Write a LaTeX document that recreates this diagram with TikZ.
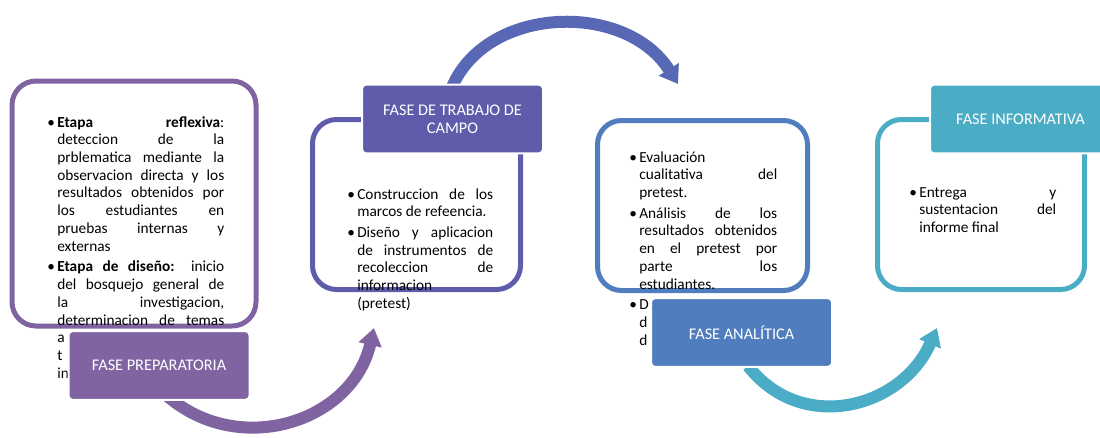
\documentclass[tikz,border=0pt]{standalone}
\usepackage{fontspec}
\setmainfont{Carlito}
\usetikzlibrary{arrows.meta}
\definecolor{morado}{RGB}{128,100,162}
\definecolor{violeta}{RGB}{95,92,172}
\definecolor{violetaflecha}{RGB}{88,104,180}
\definecolor{azul}{RGB}{79,125,189}
\definecolor{turquesa}{RGB}{75,172,198}
\newcommand{\vineta}{\par\hangindent=7.5pt\hangafter=1\noindent\makebox[7.5pt][l]{\textbullet}}
\newcommand{\cuadro}[2]{\parbox[t]{#1}{\fontsize{11.5}{13.3}\selectfont\setlength{\parskip}{2.25pt}#2}}

\begin{document}
\begin{tikzpicture}[x=0.75pt,y=-0.75pt,
    marco/.style={line width=3.75pt,rounded corners=18pt,inner sep=0pt,outer sep=0pt},
    etiqueta/.style={draw=white,line width=1.5pt,rounded corners=3pt,text=white,align=center,
      font=\fontsize{12.2}{13.8}\selectfont,minimum width=135.75pt,minimum height=51.5pt,inner sep=0pt},
    texto/.style={anchor=base west,inner sep=0pt},
    flecha/.style={line width=9pt,-{Triangle[width=17pt,length=13pt]}}]
\clip (0,0) rectangle (1100,437);

% marcos
\node[marco,draw=morado,minimum width=183pt,minimum height=183.75pt] (m1) at (134,203.5) {};
\node[marco,draw=violeta,minimum width=156pt,minimum height=127.5pt] (m2) at (416.5,204.5) {};
\node[marco,draw=azul,minimum width=157.5pt,minimum height=127.5pt] (m3) at (702.5,205.5) {};
\node[marco,draw=turquesa,minimum width=155.25pt,minimum height=127.5pt] (m4) at (981,204.5) {};

% textos
\node[texto] (t1) at (47,127) {\cuadro{132.75pt}{%
  \vineta\textbf{Etapa reflexiva}:\linebreak deteccion de la\linebreak prblematica mediante la\linebreak
  observacion directa y los\linebreak resultados obtenidos por\linebreak los estudiantes en\linebreak
  pruebas internas y\linebreak externas
  \vineta\textbf{Etapa de diseño:} inicio\linebreak del bosquejo general de\linebreak la investigacion,\linebreak
  determinacion de temas\linebreak a\\ t\\ in}};
\node[texto] (t2) at (347,199) {\cuadro{109.5pt}{%
  \vineta Construccion de los\linebreak marcos de refeencia.
  \vineta Diseño y aplicacion\linebreak de instrumentos de\linebreak recoleccion de\linebreak informacion\\ (pretest)}};
\node[texto] (t3) at (629,162) {\cuadro{111pt}{%
  \vineta Evaluación\\ cualitativa del\linebreak pretest.
  \vineta Análisis de los\linebreak resultados obtenidos\linebreak en el pretest por\linebreak parte los\linebreak estudiantes.
  \vineta D\\ d\\ d}};
\node[texto] (t4) at (909,197) {\cuadro{110.25pt}{%
  \vineta Entrega y\linebreak sustentacion del\linebreak informe final}};

% flechas
\coordinate (p1) at (165,394);
\coordinate (p2) at (374,328);
\coordinate (p3) at (450,92);
\coordinate (p4) at (678,84);
\coordinate (p5) at (748,366);
\coordinate (p6) at (937,328);
\draw[flecha,morado] (p1) .. controls (237,459) and (352,423) .. (p2);
\draw[flecha,violetaflecha] (p3) .. controls (482,5) and (625,0) .. (p4);
\draw[flecha,turquesa] (p5) .. controls (802,435) and (902,408) .. (p6);

% etiquetas
\node[etiqueta,fill=morado] (e1) at (159,365.5) {FASE PREPARATORIA};
\node[etiqueta,fill=violeta] (e2) at (452.5,119) {FASE DE TRABAJO DE\\CAMPO};
\node[etiqueta,fill=azul] (e3) at (741.5,332.5) {FASE ANALÍTICA};
\node[etiqueta,fill=turquesa] (e4) at (1020.5,119) {FASE INFORMATIVA};
\end{tikzpicture}
\end{document}
